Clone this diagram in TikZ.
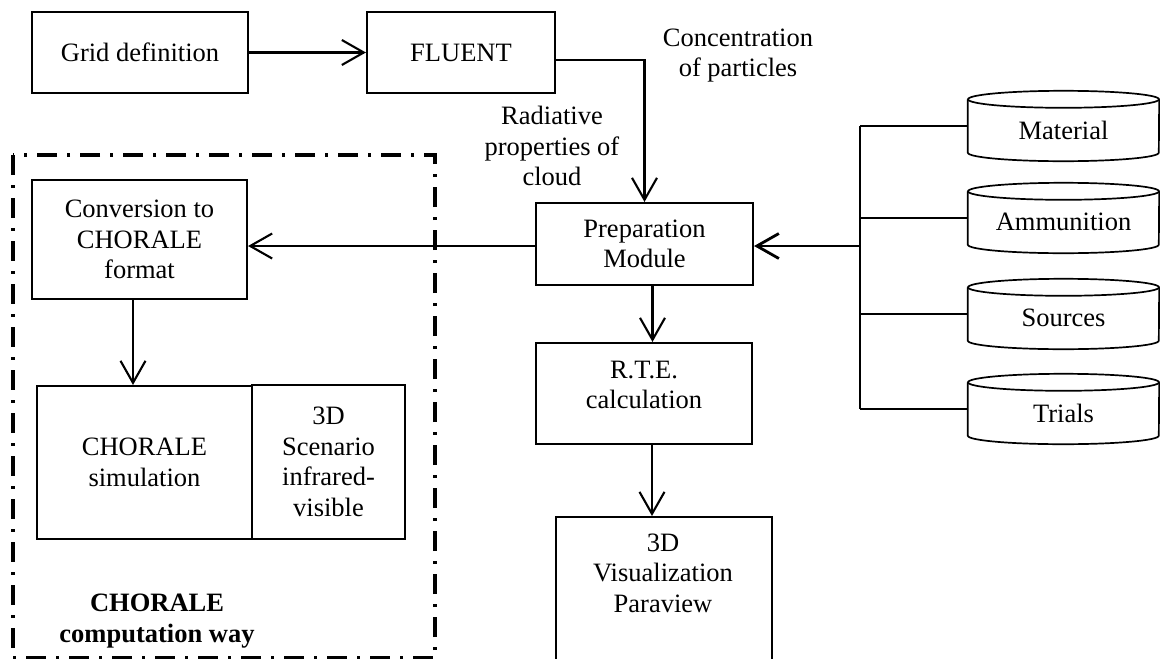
\documentclass[tikz,border=0pt]{standalone}
\usepackage{fontspec}
\setmainfont{Liberation Serif}
\usetikzlibrary{arrows.meta,calc}
\begin{document}
\begin{tikzpicture}[x=1pt,y=-1pt,
  every node/.style={font=\fontsize{26.5}{30.5}\selectfont, inner sep=0pt, align=center},
  box/.style={draw, line width=2.1pt},
  arr/.style={line width=2.1pt, -{Straight Barb[length=22pt,width=25pt]}},
  wire/.style={line width=2.1pt},
  cylnode/.style={minimum width=191pt, minimum height=70pt},
  cylline/.style={line width=1.7pt}]
\useasboundingbox (0,0) rectangle (1160,659);
\clip (0,0) rectangle (1160,659);

% boxes
\node[box, minimum width=216pt, minimum height=81pt] (grid) at (140,52.5) {Grid definition};
\node[box, minimum width=188pt, minimum height=81pt] (fluent) at (461,52.5) {FLUENT};
\node[box, minimum width=215pt, minimum height=119pt] (conv) at (139.5,239.5) {Conversion to\\CHORALE\\format};
\node[box, minimum width=217pt, minimum height=82pt] (prep) at (644.5,244) {Preparation\\Module};
\node[box, minimum width=216pt, minimum height=101pt] (rte) at (644,393.5) {};
\node (rtetext) at (644,385) {R.T.E.\\calculation};
\node[box, minimum width=215pt, minimum height=153pt] (sim) at (144.5,462.5) {CHORALE\\simulation};
\node[box, minimum width=153pt, minimum height=154pt] (scen) at (328.5,462) {3D\\Scenario\\infrared-\\visible};
\node[box, minimum width=216pt, minimum height=170pt, anchor=north] (vis) at (664,516) {};
\node (vistext) at (663,573) {3D\\Visualization\\Paraview};

% labels
\node (conc) at (738,55.5) {Concentration\\of particles};
\node (rad) at (552,146) {Radiative\\properties of\\cloud};
\node[font=\fontsize{26.5}{31}\selectfont\bfseries] (way) at (157,621) {CHORALE\\computation way};

% dash-dot frame
\draw[line width=4pt, dash pattern=on 20pt off 10pt on 3pt off 10pt] (13,155) rectangle (435,658);

% cylinders
\node[cylnode] (mat) at (1063.5,126) {};
\node[cylnode] (amm) at (1063.5,218) {};
\node[cylnode] (src) at (1063.5,314) {};
\node[cylnode] (tri) at (1063.5,409) {};
\node (mattext) at (1063.5,130) {Material};
\node (ammtext) at (1063.5,222) {Ammunition};
\node (srctext) at (1063.5,318) {Sources};
\node (tritext) at (1063.5,413) {Trials};
\foreach \n in {mat,amm,src,tri}{
  \draw[cylline] ($(\n.north)+(0,8.5)$) ellipse [x radius=95.5, y radius=8.5];
  \draw[cylline] ($(\n.north west)+(0,8.5)$) -- ($(\n.south west)+(0,-8.5)$)
     arc[start angle=180, end angle=0, x radius=95.5, y radius=8.5]
     -- ($(\n.north east)+(0,8.5)$);
}

% bus
\coordinate (busTop) at (860,126);
\coordinate (busBot) at (860,409);
\draw[line width=2.8pt] (busTop) -- (busBot);
\foreach \n in {mat,amm,src,tri}{
  \draw[wire] (\n.west) -- (\n.west -| busTop);
}
\draw[arr, line width=2.8pt] ([yshift=-2pt]prep.east -| busTop) -- ([yshift=-2pt]prep.east);

% connectors
\draw[arr] (grid) -- (fluent);
\draw[arr] ([yshift=-7.5pt]fluent.east) -| (prep.north);
\draw[arr] ([yshift=-2pt]prep.west) -- ([yshift=-2pt]prep.west -| conv.east);
\draw[arr] ([xshift=-6.5pt]conv.south) -- ([xshift=-6.5pt]conv.south |- sim.north);
\draw[arr] ([xshift=8pt]prep.south) -- ([xshift=8pt]prep.south |- rte.north);
\draw[arr] ([xshift=8pt]rte.south) -- ([xshift=8pt]rte.south |- vis.north);
\end{tikzpicture}
\end{document}
